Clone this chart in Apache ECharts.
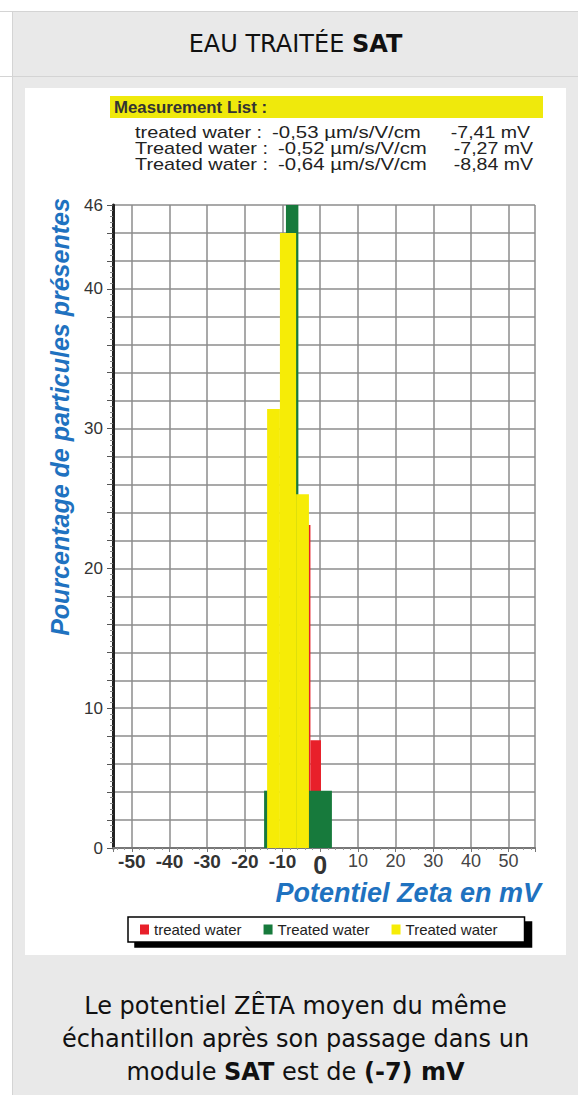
<!DOCTYPE html>
<html>
<head>
<meta charset="utf-8">
<script src="https://cdn.jsdelivr.net/npm/echarts@6/dist/echarts.min.js"></script>
<style>
  html, body { margin: 0; padding: 0; background: #ffffff; }
  body { width: 578px; height: 1095px; position: relative; overflow: hidden; font-family: "DejaVu Sans", sans-serif; }
  .hl { position: absolute; left: 0; width: 578px; height: 1px; background: #d4d4d4; }
  .vl { position: absolute; left: 12px; top: 11px; width: 1px; height: 1084px; background: #d4d4d4; }
  .cell { position: absolute; left: 13px; width: 565px; background: #e9e9e9; }
  #head { top: 12px; height: 64px; display: flex; align-items: center; justify-content: center; font-size: 24px; color: #111; }
  #body { top: 77px; height: 1018px; }
  #img { position: absolute; left: 25px; top: 88px; width: 541px; height: 867px; background: #ffffff; }
  #foot { position: absolute; left: 13px; width: 565px; top: 990px; text-align: center; font-size: 24px; line-height: 33px; color: #111; }
  #chart { position: absolute; left: 0; top: 0; width: 578px; height: 1095px; }
</style>
</head>
<body>
<div class="hl" style="top:11px"></div>
<div class="hl" style="top:76px"></div>
<div class="vl"></div>
<div class="cell" id="head"><span>EAU TRAITÉE <b>SAT</b></span></div>
<div class="cell" id="body"></div>
<div id="img"></div>
<div id="foot">Le potentiel ZÊTA moyen du même<br>échantillon après son passage dans un<br>module <b>SAT</b> est de <b>(-7) mV</b></div>
<div id="chart"></div>
<script>
// ---- data ----
const seriesNames = ['treated water', 'Treated water', 'Treated water (2)'];
const legendLabels = ['treated water', 'Treated water', 'Treated water'];
// bars: [from mV, to mV, percent]
const redBars = [[-6.2, -2.6, 23.1], [-2.6, 0.2, 7.7]];
const greenBars = [[-14.9, -11.0, 4.1], [-9.1, -5.8, 46], [-3.0, 3.1, 4.1]];
const yellowBars = [[-14.1, -10.7, 31.4], [-10.7, -6.4, 44.0], [-6.4, -3.0, 25.3]];
const measureNames = ['treated water :', 'Treated water :', 'Treated water :'];
const measureMobility = ['-0,53 µm/s/V/cm', '-0,52 µm/s/V/cm', '-0,64 µm/s/V/cm'];
const measureZeta = ['-7,41 mV', '-7,27 mV', '-8,84 mV'];
const xRange = [-55, 57];
const yRange = [0, 46];
const yLabelValues = [0, 10, 20, 30, 40, 46];

const colors = ['#e8202a', '#177a3c', '#f6ec06'];
const chart = echarts.init(document.getElementById('chart'), null, { renderer: 'svg' });

function renderBar(params, api) {
  const p0 = api.coord([api.value(0), api.value(2)]);
  const p1 = api.coord([api.value(1), 0]);
  return {
    type: 'rect',
    shape: { x: p0[0], y: p0[1], width: p1[0] - p0[0], height: p1[1] - p0[1] },
    style: { fill: api.visual('color') }
  };
}

const barSets = [redBars, greenBars, yellowBars];
const series = barSets.map((d, i) => ({
  type: 'custom',
  name: seriesNames[i],
  data: d,
  encode: { x: [0, 1], y: 2 },
  renderItem: renderBar,
  clip: true,
  itemStyle: { color: colors[i] },
  z: 2 + i
}));

const txtFont = '17px "Liberation Sans"';
const graphics = [
  { type: 'rect', shape: { x: 110, y: 96, width: 433, height: 22 }, style: { fill: '#efe90c' } },
  { type: 'text', x: 114, y: 107, scaleX: 1.05, style: { text: 'Measurement List :', font: 'bold 16px "Liberation Sans"', fill: '#333', textVerticalAlign: 'middle' } }
];
measureNames.forEach((t, i) => {
  const y = 132 + i * 16;
  graphics.push({ type: 'text', x: 135, y: y, scaleX: 1.17, style: { text: t, font: txtFont, fill: '#222', textVerticalAlign: 'middle' } });
  graphics.push({ type: 'text', x: i === 0 ? 272 : 278, y: y, scaleX: 1.2, style: { text: measureMobility[i], font: txtFont, fill: '#222', textVerticalAlign: 'middle' } });
  graphics.push({ type: 'text', x: i === 0 ? 530 : 533, y: y, scaleX: 1.15, style: { text: measureZeta[i], font: txtFont, fill: '#222', textVerticalAlign: 'middle', textAlign: 'right' } });
});
graphics.push({ type: 'text', x: 60, y: 417, rotation: Math.PI / 2, style: { text: 'Pourcentage de particules présentes', font: 'italic bold 25px "Liberation Sans"', fill: '#1f72c0', textAlign: 'center', textVerticalAlign: 'middle' } });
graphics.push({ type: 'text', x: 541, y: 893, style: { text: 'Potentiel Zeta en mV', font: 'italic bold 27px "Liberation Sans"', fill: '#1f72c0', textAlign: 'right', textVerticalAlign: 'middle' } });

chart.setOption({
  animation: false,
  backgroundColor: 'transparent',
  grid: { left: 113, top: 205, width: 422, height: 643, show: false },
  xAxis: {
    type: 'value', min: xRange[0], max: xRange[1], splitNumber: 11,
    axisLine: { show: true, onZero: false, lineStyle: { color: '#777', width: 2 } },
    axisTick: { show: true, length: 4, lineStyle: { color: '#777' } },
    minorTick: { show: true, splitNumber: 5, length: 2, lineStyle: { color: '#999' } },
    splitLine: { show: true, lineStyle: { color: '#8c8c8c', width: 1.5 } },
    showMinLabel: false, showMaxLabel: false,
    axisLabel: {
      margin: 4,
      formatter: v => (v % 10 !== 0) ? '' : (v < 0 ? '{n|' + v + '}' : (v === 0 ? '{z|0}' : '{p|' + v + '}')),
      rich: {
        n: { fontFamily: 'Liberation Sans', fontWeight: 'bold', fontSize: 19, color: '#333' },
        z: { fontFamily: 'Liberation Sans', fontWeight: 'bold', fontSize: 25, color: '#333' },
        p: { fontFamily: 'Liberation Sans', fontSize: 18, color: '#444' }
      }
    }
  },
  yAxis: {
    type: 'value', min: yRange[0], max: yRange[1], interval: 2,
    axisLine: { show: true, onZero: false, lineStyle: { color: '#222', width: 3 } },
    axisTick: { show: true, length: 6, lineStyle: { color: '#555' } },
    minorTick: { show: true, splitNumber: 5, length: 3, lineStyle: { color: '#888' } },
    splitLine: { show: true, lineStyle: { color: '#8c8c8c', width: 1.5 } },
    axisLabel: {
      margin: 10, fontFamily: 'Liberation Sans', fontSize: 17, color: '#333',
      formatter: v => yLabelValues.indexOf(v) >= 0 ? String(v) : ''
    }
  },
  legend: {
    left: 128, top: 917,
    data: seriesNames,
    formatter: n => legendLabels[seriesNames.indexOf(n)],
    icon: 'rect', itemWidth: 9, itemHeight: 10, itemGap: 22,
    padding: [5, 27, 5, 12],
    backgroundColor: '#fff', borderColor: '#000', borderWidth: 1.5,
    shadowColor: '#000', shadowBlur: 0, shadowOffsetX: 7, shadowOffsetY: 5,
    textStyle: { fontFamily: 'Liberation Sans', fontSize: 15, color: '#222' },
    selectedMode: false
  },
  graphic: graphics,
  series: series
});
</script>
</body>
</html>
